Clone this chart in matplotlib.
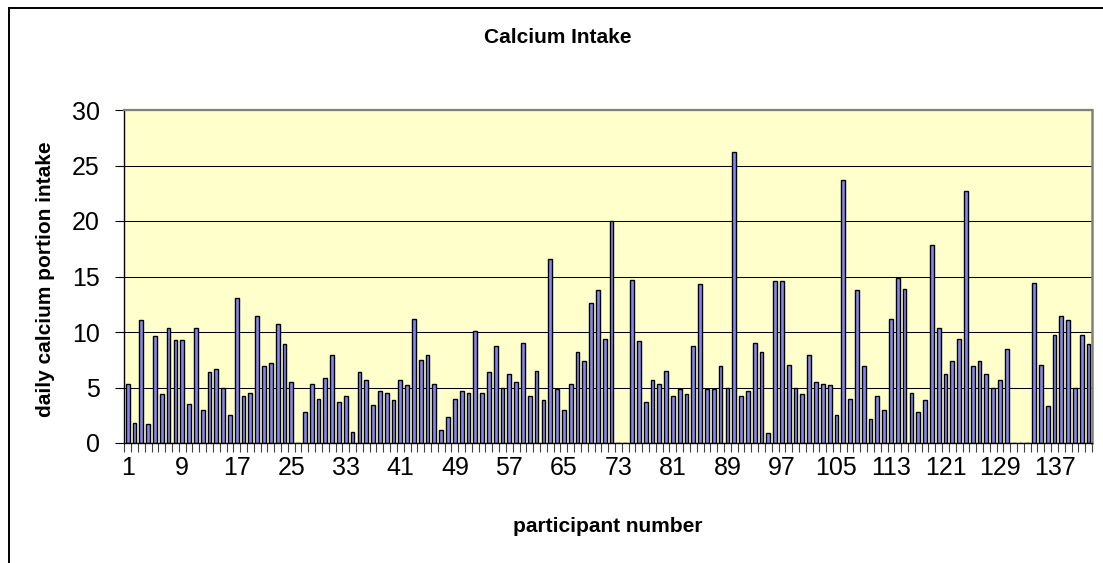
import matplotlib
matplotlib.use("Agg")
import matplotlib.pyplot as plt
from matplotlib.lines import Line2D
from matplotlib.ticker import FixedLocator, NullFormatter, FixedFormatter

plt.rcParams['font.family'] = ['Liberation Sans', 'DejaVu Sans']

# ---------------- data ----------------
participants = list(range(1, 143))
calcium = [
    5.3, 1.8, 11.1, 1.7, 9.6, 4.4, 10.4, 9.3, 9.3, 3.5,
    10.4, 3.0, 6.4, 6.7, 5.0, 2.5, 13.1, 4.2, 4.5, 11.4,
    6.9, 7.2, 10.7, 8.9, 5.5, 0.0, 2.8, 5.3, 4.0, 5.9,
    7.9, 3.7, 4.2, 1.0, 6.4, 5.7, 3.4, 4.7, 4.5, 3.9,
    5.7, 5.2, 11.2, 7.5, 7.9, 5.3, 1.2, 2.3, 4.0, 4.7,
    4.5, 10.1, 4.5, 6.4, 8.7, 5.0, 6.2, 5.5, 9.0, 4.2,
    6.5, 3.9, 16.6, 4.9, 3.0, 5.3, 8.2, 7.4, 12.6, 13.8,
    9.4, 20.0, 0.0, 0.0, 14.7, 9.2, 3.7, 5.7, 5.3, 6.5,
    4.2, 4.9, 4.4, 8.7, 14.3, 4.9, 4.9, 6.9, 5.0, 26.2,
    4.2, 4.7, 9.0, 8.2, 0.9, 14.6, 14.6, 7.0, 5.0, 4.4,
    7.9, 5.5, 5.3, 5.2, 2.5, 23.7, 4.0, 13.8, 6.9, 2.2,
    4.2, 3.0, 11.2, 14.9, 13.9, 4.5, 2.8, 3.9, 17.8, 10.4,
    6.2, 7.4, 9.4, 22.7, 6.9, 7.4, 6.2, 5.0, 5.7, 8.5,
    0.0, 0.0, 0.0, 14.4, 7.0, 3.3, 9.7, 11.4, 11.1, 5.0,
    9.7, 8.9,
]
x_tick_values = participants[::8]
x_tick_labels = [str(p) for p in x_tick_values]
y_ticks = [0, 5, 10, 15, 20, 25, 30]

title = "Calcium Intake"
x_label = "participant number"
y_label = "daily calcium portion intake"

# ---------------- figure ----------------
W, H = 1103, 563
fig = plt.figure(figsize=(W / 100, H / 100), dpi=100)
fig.patch.set_facecolor('white')

left, right, top, bottom = 124.3, 1092.0, 110.0, 443.0
ax = fig.add_axes([left / W, 1 - bottom / H, (right - left) / W, (bottom - top) / H])
ax.set_facecolor('#FFFFCC')
ax.set_axisbelow(True)

ax.bar(participants, calcium, width=0.55, color='#8686F2',
       edgecolor='black', linewidth=1.0, zorder=2)

ax.set_xlim(participants[0] - 0.5, participants[-1] + 0.5)
ax.set_ylim(0, 30)

# y axis
ax.set_yticks(y_ticks)
ax.set_yticklabels([str(v) for v in y_ticks])
ax.tick_params(axis='y', which='major', length=6.5, width=0.8, color='black',
               direction='out', pad=11, labelsize=18)
ax.yaxis.grid(True, color='black', linewidth=0.75)

# x axis: ticks between categories, labels at every 8th category
bounds = [p - 0.5 for p in participants] + [participants[-1] + 0.5]
ax.xaxis.set_major_locator(FixedLocator(bounds))
ax.xaxis.set_major_formatter(NullFormatter())
ax.xaxis.set_minor_locator(FixedLocator(x_tick_values))
ax.xaxis.set_minor_formatter(FixedFormatter(x_tick_labels))
ax.tick_params(axis='x', which='major', length=6.5, width=0.8, color='#404040',
               direction='out')
ax.tick_params(axis='x', which='minor', length=0, pad=9.5, labelsize=18)
ax.xaxis.grid(False)

# spines
ax.spines['top'].set_color('#808080')
ax.spines['top'].set_linewidth(1.6)
ax.spines['right'].set_color('#808080')
ax.spines['right'].set_linewidth(1.8)
ax.spines['left'].set_color('black')
ax.spines['left'].set_linewidth(1.0)
ax.spines['bottom'].set_color('black')
ax.spines['bottom'].set_linewidth(1.0)

# texts
fig.text(558 / W, 1 - 43 / H, title, ha='center', va='baseline',
         fontsize=15, fontweight='bold')
fig.text((left + right) / 2 / W, 1 - 532 / H, x_label, ha='center', va='baseline',
         fontsize=15, fontweight='bold')
fig.text(46 / W, 1 - 279 / H, y_label, ha='center', va='center', rotation=90,
         fontsize=15, fontweight='bold')

# chart-area border (extends beyond right/bottom edges)
bx, by = 8.5 / W, 1 - 7.5 / H
fig.add_artist(Line2D([bx, bx], [-0.05, by], transform=fig.transFigure,
                      color='black', linewidth=1.4))
fig.add_artist(Line2D([bx, 1.05], [by, by], transform=fig.transFigure,
                      color='black', linewidth=1.4))

fig.savefig('out.png', dpi=100, facecolor='white')
